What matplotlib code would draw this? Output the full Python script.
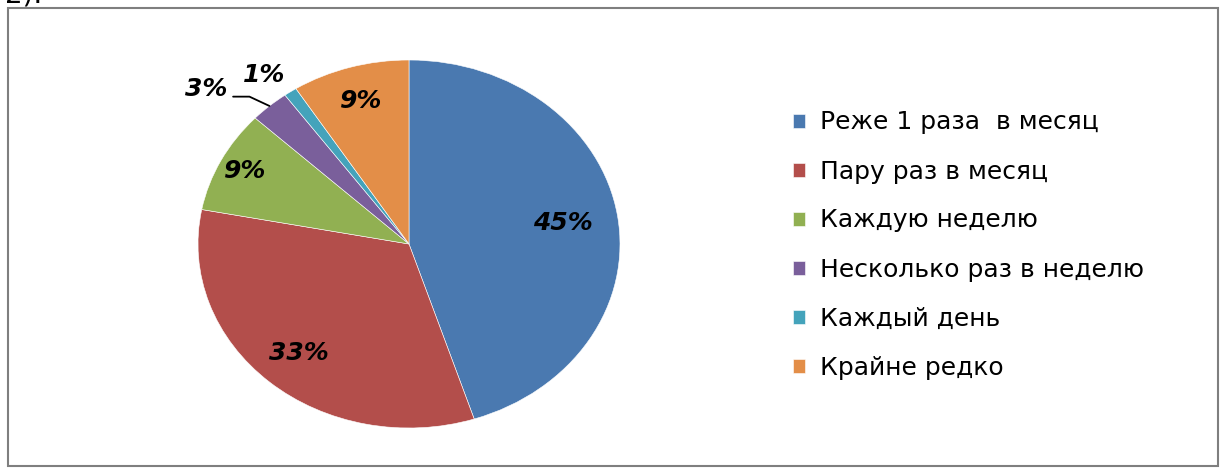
import matplotlib
matplotlib.use('Agg')

import matplotlib.pyplot as plt
import numpy as np
from matplotlib.patches import Rectangle

# === данные ===
categories = ['Реже 1 раза  в месяц', 'Пару раз в месяц', 'Каждую неделю',
              'Несколько раз в неделю', 'Каждый день', 'Крайне редко']
values = [45, 33, 9, 3, 1, 9]
colors = ['#4a79b0', '#b34e4b', '#91b052', '#7a5f9b', '#44a3bb', '#e38e48']

# радиальное положение подписей для каждого сектора
label_dist = [0.74, 0.79, 0.87, None, None, 0.81]

fig = plt.figure(figsize=(12.27, 4.74), dpi=100)

# рамка
fig.patches.append(Rectangle((8 / 1227, 8 / 474), 1210 / 1227, 458 / 474,
                             transform=fig.transFigure, fill=False,
                             edgecolor='#7f7f7f', linewidth=1.5))
fig.text(0.004, 1 - 3 / 474, '2).', fontsize=20, va='baseline', ha='left')

ax = fig.add_axes([198 / 1227, 46 / 474, 422 / 1227, 368 / 474])
wedges, _ = ax.pie(values, colors=colors, startangle=90, counterclock=False,
                   radius=1, wedgeprops=dict(edgecolor='white', linewidth=0.4))
ax.set_aspect('auto')
ax.set_xlim(-1, 1)
ax.set_ylim(-1, 1)
ax.axis('off')

lab_font = dict(fontsize=18, fontweight='bold', fontstyle='italic', color='black')

for w, v, r in zip(wedges, values, label_dist):
    if r is None:
        continue
    mid = np.deg2rad((w.theta1 + w.theta2) / 2)
    ax.text(r * np.cos(mid), r * np.sin(mid), f'{v}%', ha='center', va='center', **lab_font)

# 3% — с выноской
w3 = wedges[3]
mid3 = np.deg2rad((w3.theta1 + w3.theta2) / 2)
ax.annotate(f'{values[3]}%', xy=(np.cos(mid3), np.sin(mid3)), xytext=(-0.86, 0.84),
            ha='right', va='center', annotation_clip=False,
            arrowprops=dict(arrowstyle='-', color='black', lw=1.3,
                            shrinkA=2, shrinkB=0, relpos=(1, 0.2),
                            connectionstyle='angle,angleA=0,angleB=-25,rad=0'),
            **lab_font)

# 1%
w1 = wedges[4]
mid1 = np.deg2rad((w1.theta1 + w1.theta2) / 2)
ax.text(1.22 * np.cos(mid1), 1.11 * np.sin(mid1), f'{values[4]}%', ha='center', va='center',
        clip_on=False, **lab_font)

leg = fig.legend(wedges, categories, loc='center left',
                 bbox_to_anchor=(770 / 1227, 1 - 245 / 474), frameon=False,
                 prop=dict(family='DejaVu Sans', size=18),
                 handlelength=0.5, handleheight=0.5, handletextpad=0.6,
                 labelspacing=1.0)

fig.savefig('out.png', dpi=100)
